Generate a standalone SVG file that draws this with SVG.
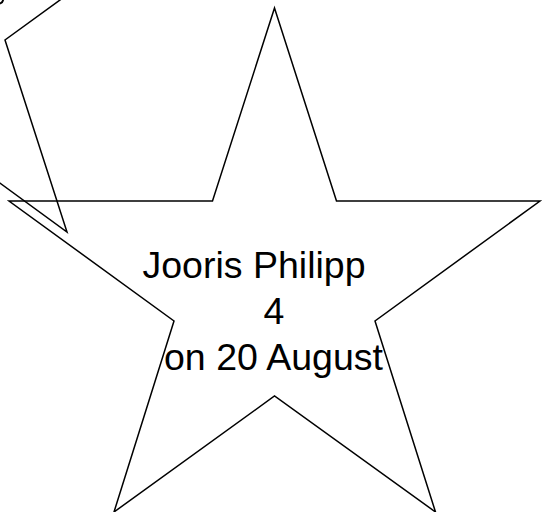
<svg xmlns="http://www.w3.org/2000/svg" width="543" height="512" viewBox="0 0 543 512">
<style>
.shape{fill:none;stroke:#000;stroke-width:1.5;stroke-linejoin:miter}
.lbl{font-family:"Liberation Sans",Arial,sans-serif;font-size:37.5px;fill:#000}
</style>
<rect width="543" height="512" fill="#fff"/>
<g id="star-offscreen">
<path class="shape" d="M0,3.5 Q2.5,2.8 3.2,0" style="stroke-width:2"/>
<polyline class="shape" points="82,-16 5,40 67,232 -20,168.6"/>
</g>
<g id="star-main">
<polygon class="shape" points="274.5,8 336.5,201 540,201 375,321 435.5,512 274.5,396 114,512 174,321 9,201 212.5,201"/>
<text class="lbl" x="142.5" y="278">Jooris Philipp</text>
<text class="lbl" x="263.5" y="324">4</text>
<text class="lbl" x="164" y="370">on 20 August</text>
</g>
</svg>
